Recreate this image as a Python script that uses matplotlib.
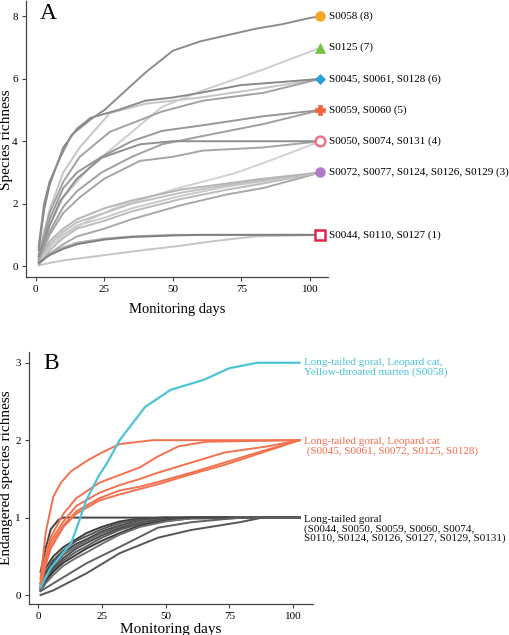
import matplotlib
matplotlib.use("Agg")
import matplotlib.pyplot as plt
import numpy as np

plt.rcParams['font.family'] = ['Liberation Serif', 'DejaVu Serif']

# ---- panel A: rarefaction curves per station (days, richness) ----
a_curves = [
    # (days, values, grey)
    ([1, 5, 10, 16, 27, 40, 60, 83, 104], [0.4, 1.8, 3.0, 3.8, 4.9, 5.2, 5.4, 5.7, 6.0], '#c5c5c5'),
    ([1, 5, 10, 20, 31, 46, 60, 83, 104], [0.3, 1.3, 2.2, 3.2, 4.0, 5.1, 5.6, 6.3, 7.0], '#cdcdcd'),
    ([1, 5, 10, 20, 30, 50, 72, 83, 104], [0.1, 0.6, 1.0, 1.5, 1.9, 2.45, 2.96, 3.3, 4.0], '#d2d2d2'),
    ([1, 5, 10, 25, 40, 50, 65, 80, 104], [0.02, 0.1, 0.18, 0.35, 0.52, 0.62, 0.8, 0.95, 1.0], '#c5c5c5'),
    ([1, 5, 10, 15, 25, 35, 53, 70, 83, 104], [0.05, 0.4, 0.7, 0.95, 1.2, 1.5, 1.95, 2.3, 2.5, 3.0], '#a8a8a8'),
    ([1, 5, 10, 15, 25, 35, 53, 70, 83, 104], [0.1, 0.5, 0.9, 1.2, 1.45, 1.75, 2.15, 2.45, 2.65, 3.0], '#bbbbbb'),
    ([1, 5, 10, 15, 25, 35, 53, 70, 83, 104], [0.1, 0.6, 1.0, 1.3, 1.55, 1.85, 2.25, 2.55, 2.72, 3.0], '#cacaca'),
    ([1, 5, 10, 15, 25, 35, 53, 70, 83, 104], [0.15, 0.7, 1.1, 1.4, 1.7, 2.0, 2.35, 2.6, 2.75, 3.0], '#c0c0c0'),
    ([1, 5, 10, 15, 25, 35, 53, 70, 83, 104], [0.2, 0.8, 1.2, 1.5, 1.85, 2.1, 2.45, 2.65, 2.8, 3.0], '#b5b5b5'),
    ([1, 5, 10, 15, 25, 35, 50, 70, 104], [0.1, 0.4, 0.6, 0.75, 0.88, 0.95, 1.0, 1.0, 1.0], '#b0b0b0'),
    ([1, 5, 10, 16, 25, 38, 50, 61, 83, 104], [0.2, 1.0, 1.7, 2.2, 2.8, 3.37, 3.5, 3.7, 3.8, 4.0], '#a5a5a5'),
    ([1, 5, 10, 15, 24, 35, 46, 60, 83, 104], [0.2, 1.1, 1.9, 2.4, 3.0, 3.5, 3.9, 4.15, 4.55, 5.0], '#a0a0a0'),
    ([1, 5, 10, 15, 24, 35, 46, 60, 83, 104], [0.3, 1.5, 2.5, 3.0, 3.5, 4.0, 4.33, 4.5, 4.8, 5.0], '#979797'),
    ([1, 5, 10, 16, 27, 46, 61, 83, 104], [0.3, 1.7, 2.7, 3.5, 4.3, 4.95, 5.3, 5.55, 6.0], '#a2a2a2'),
    ([1, 5, 9, 15, 24, 38, 50, 104], [0.3, 1.3, 2.1, 2.8, 3.47, 3.9, 4.0, 4.0], '#8e8e8e'),
    ([1, 5, 10, 15, 25, 35, 50, 60, 104], [0.1, 0.35, 0.55, 0.7, 0.85, 0.93, 0.98, 1.0, 1.0], '#808080'),
    ([1, 3, 5, 10, 15, 20, 30, 40, 50, 60, 75, 90, 104], [0.5, 1.8, 2.6, 3.8, 4.4, 4.75, 5.0, 5.3, 5.4, 5.55, 5.8, 5.9, 6.0], '#8a8a8a'),
    ([1, 3, 5, 9, 13, 20, 25, 30, 40, 50, 60, 70, 80, 90, 100, 104],
     [0.6, 2.0, 2.7, 3.5, 4.2, 4.7, 5.0, 5.4, 6.2, 6.9, 7.2, 7.4, 7.6, 7.75, 7.95, 8.0], '#8c8c8c'),
]

a_levels = [8, 7, 6, 5, 4, 3, 1]
a_labels = ['S0058 (8)', 'S0125 (7)', 'S0045, S0061, S0128 (6)', 'S0059, S0060 (5)',
            'S0050, S0074, S0131 (4)', 'S0072, S0077, S0124, S0126, S0129 (3)',
            'S0044, S0110, S0127 (1)']
a_markers = [('o', '#f5a623', True), ('^', '#74c244', True), ('D', '#2a9fd8', True),
             ('P', '#f0663a', True), ('o', '#f07088', False), ('o', '#b07ac6', True),
             ('s', '#e3264a', False)]

# ---- panel B: endangered species curves ----
b_cyan = ([1, 5, 10, 13, 15, 19, 24, 27, 32, 42, 52, 65, 75, 86, 102.5],
          [0.1, 0.35, 0.55, 0.67, 0.85, 1.23, 1.55, 1.7, 2.0, 2.43, 2.65, 2.78, 2.93, 3.0, 3.0])
b_orange = [
    ([1, 3, 6, 9, 13, 20, 25, 32, 45, 102.5], [0.2, 0.8, 1.27, 1.45, 1.6, 1.75, 1.84, 1.95, 2.0, 2.0]),
    ([1, 3, 5, 10, 15, 24, 32, 40, 47, 55, 66, 102.5], [0.15, 0.5, 0.75, 1.05, 1.25, 1.45, 1.55, 1.65, 1.79, 1.92, 1.98, 2.0]),
    ([1, 3, 5, 10, 15, 24, 32, 40, 47, 60, 73, 90, 102.5], [0.15, 0.45, 0.7, 0.95, 1.15, 1.32, 1.42, 1.5, 1.58, 1.71, 1.84, 1.92, 2.0]),
    ([1, 3, 5, 10, 15, 24, 32, 40, 47, 60, 73, 86, 102.5], [0.1, 0.4, 0.65, 0.9, 1.08, 1.25, 1.35, 1.4, 1.46, 1.58, 1.71, 1.84, 2.0]),
    ([1, 3, 5, 10, 15, 24, 32, 40, 47, 60, 73, 86, 102.5], [0.1, 0.38, 0.6, 0.88, 1.05, 1.22, 1.3, 1.37, 1.43, 1.56, 1.68, 1.82, 2.0]),
]
b_black_days = [1, 3, 6, 10, 15, 19, 25, 32, 40, 50, 60, 102.5]
b_black = [
    [0.15, 0.35, 0.5, 0.62, 0.72, 0.8, 0.88, 0.95, 0.99, 1, 1, 1],
    [0.12, 0.3, 0.45, 0.58, 0.7, 0.76, 0.85, 0.93, 0.98, 1, 1, 1],
    [0.1, 0.28, 0.42, 0.55, 0.66, 0.72, 0.82, 0.9, 0.96, 0.99, 1, 1],
    [0.1, 0.25, 0.38, 0.52, 0.63, 0.7, 0.8, 0.88, 0.95, 0.99, 1, 1],
    [0.08, 0.22, 0.35, 0.48, 0.6, 0.67, 0.77, 0.86, 0.93, 0.98, 1, 1],
    [0.08, 0.2, 0.32, 0.45, 0.56, 0.63, 0.74, 0.84, 0.92, 0.97, 1, 1],
    [0.06, 0.18, 0.3, 0.42, 0.52, 0.6, 0.7, 0.8, 0.9, 0.96, 0.99, 1],
    [0.05, 0.15, 0.26, 0.38, 0.48, 0.55, 0.66, 0.78, 0.88, 0.95, 0.99, 1],
]
b_black_extra = [
    ([1, 3, 5, 8, 10, 102.5], [0.3, 0.6, 0.85, 0.97, 1.0, 1.0]),
    ([1, 6, 19, 32, 47, 60, 79, 88, 102.5], [0.0, 0.06, 0.28, 0.54, 0.74, 0.84, 0.94, 1.0, 1.0]),
    ([1, 6, 19, 32, 47, 60, 73, 80, 102.5], [0.05, 0.15, 0.41, 0.62, 0.87, 0.94, 0.98, 1.0, 1.0]),
]
black_shades = ['#3c3c3c', '#555555', '#444444', '#666666', '#4a4a4a', '#5e5e5e', '#383838', '#707070']

b_labels = ['Long-tailed goral, Leopard cat,\nYellow-throated marten (S0058)',
            'Long-tailed goral, Leopard cat\n (S0045, S0061, S0072, S0125, S0128)',
            'Long-tailed goral\n(S0044, S0050, S0059, S0060, S0074,\nS0110, S0124, S0126, S0127, S0129, S0131)']
b_label_y = [2.94, 1.92, 0.85]
b_colors = ['#4cc3d6', '#f26c4c', '#111111']


def style_axes(ax):
    for s in ['top', 'right']:
        ax.spines[s].set_visible(False)
    for s in ['left', 'bottom']:
        ax.spines[s].set_color('#444444')
        ax.spines[s].set_linewidth(0.9)
    ax.tick_params(labelsize=8, length=3, width=0.8, color='#444444', pad=3)


fig = plt.figure(figsize=(5.1, 6.35), dpi=100)

# panel A
ax = fig.add_axes([0.051, 0.5638, 0.592, 0.434])
for days, vals, c in a_curves:
    ax.plot(days, vals, color=c, lw=1.4, solid_capstyle='round')
for lev, lab, (m, col, filled) in zip(a_levels, a_labels, a_markers):
    ms = 7 if m != 'D' else 5.5
    ax.plot([103.7], [lev], marker=m, ms=ms, color=col,
            mfc=col if filled else 'white', mec=col, mew=1.8 if not filled else 0.5,
            clip_on=False, zorder=5)
    ax.text(107, lev, lab, fontsize=8, va='center', ha='left', clip_on=False)
ax.set_xlim(-3.6, 106.6)
ax.set_ylim(-0.35, 8.48)
ax.set_xticks([0, 25, 50, 75, 100])
ax.set_yticks([0, 2, 4, 6, 8])
ax.set_xlabel('Monitoring days', fontsize=10.5, labelpad=6)
ax.set_ylabel('Species richness', fontsize=11)
ax.yaxis.set_label_coords(-0.042, 0.5)
style_axes(ax)
ax.text(0.045, 0.955, 'A', transform=ax.transAxes, fontsize=17, va='center')

# panel B
bx = fig.add_axes([0.0569, 0.0488, 0.557, 0.397])
for i, vals in enumerate(b_black):
    bx.plot(b_black_days, vals, color=black_shades[i], lw=1.4)
for (days, vals), c in zip(b_black_extra, ['#444444', '#555555', '#606060']):
    bx.plot(days, vals, color=c, lw=1.4)
for days, vals in b_orange:
    bx.plot(days, vals, color='#f2724f', lw=1.4)
bx.plot(b_cyan[0], b_cyan[1], color='#4cc3d6', lw=1.6)
for lab, y, c in zip(b_labels, b_label_y, b_colors):
    bx.text(104.3, y, lab, fontsize=8, color=c, va='center', ha='left',
            linespacing=1.0, clip_on=False)
bx.set_xlim(-3.5, 107.8)
bx.set_ylim(-0.116, 3.14)
bx.set_xticks([0, 25, 50, 75, 100])
bx.set_yticks([0, 1, 2, 3])
bx.set_xlabel('Monitoring days', fontsize=11, labelpad=1)
bx.set_ylabel('Endangered species richness', fontsize=11)
bx.yaxis.set_label_coords(-0.056, 0.5)
style_axes(bx)
bx.text(0.05, 0.955, 'B', transform=bx.transAxes, fontsize=17, va='center')

plt.savefig('out.png', dpi=100)
